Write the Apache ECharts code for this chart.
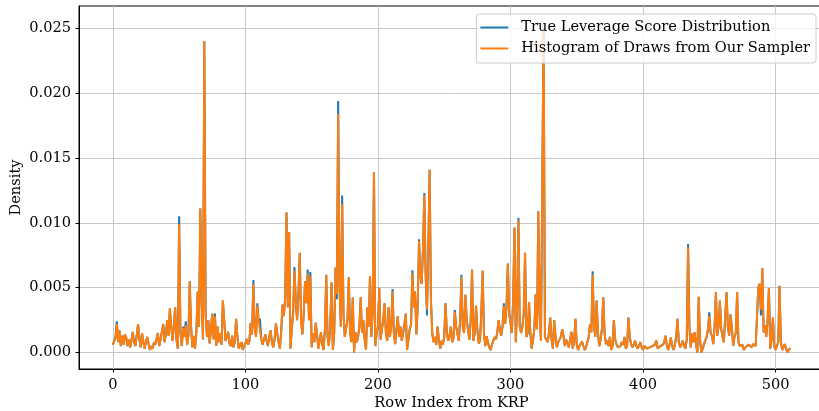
<!DOCTYPE html>
<html>
<head>
<meta charset="utf-8">
<script src="https://cdn.jsdelivr.net/npm/echarts@6/dist/echarts.min.js"></script>
<style>
  html, body { margin: 0; padding: 0; background: #fff; }
  #chart { width: 819px; height: 411px; }
</style>
</head>
<body>
<div id="chart"></div>
<script>
// density values, in units of 1e-3, one per row index (0..511)
var trueScore = [
  0.6, 0.9, 1.2, 2.4, 0.8, 1.7, 0.5, 1.3, 0.6, 1.4,
  1.2, 0.5, 1.0, 0.4, 0.9, 1.6, 0.8, 0.5, 1.3, 2.2,
  1.0, 0.4, 1.5, 0.8, 0.3, 0.9, 1.2, 0.6, 0.2, 0.5,
  0.3, 0.8, 0.6, 1.1, 1.5, 0.5, 1.0, 1.6, 2.2, 0.8,
  1.4, 2.5, 1.3, 3.4, 2.1, 0.9, 2.0, 3.5, 1.0, 0.3,
  10.5, 1.5, 0.5, 2.0, 1.2, 2.4, 0.6, 1.3, 5.5, 2.0,
  0.4, 1.2, 0.3, 1.6, 4.7, 2.0, 11.1, 4.0, 1.0, 24.0,
  3.0, 1.2, 2.5, 0.7, 1.8, 3.0, 1.0, 3.0, 0.5, 2.0,
  0.8, 1.5, 0.6, 4.0, 2.5, 0.9, 1.2, 1.6, 0.7, 0.5,
  1.3, 0.4, 0.8, 2.6, 1.2, 0.3, 0.6, 0.8, 0.2, 0.5,
  0.7, 1.05, 0.6, 0.9, 2.3, 1.4, 5.6, 1.95, 1.2, 3.8,
  2.4, 2.6, 1.0, 0.6, 0.5, 1.4, 0.9, 0.5, 1.2, 1.7,
  0.8, 0.4, 1.0, 2.25, 1.5, 0.8, 0.3, 1.6, 3.7, 2.8,
  4.2, 10.8, 3.5, 9.3, 0.3, 1.8, 3.0, 6.6, 4.0, 2.5,
  4.5, 7.7, 2.5, 1.4, 3.0, 5.5, 3.8, 6.4, 2.5, 6.2,
  0.4, 1.5, 0.8, 2.3, 1.5, 0.3, 0.9, 1.56, 0.6, 0.2,
  1.8, 6.0, 1.2, 0.5, 2.0, 5.4, 0.2, 1.5, 6.56, 4.1,
  19.4, 5.0, 2.0, 12.1, 3.0, 1.2, 1.1, 2.5, 5.8, 1.5,
  0.8, 4.25, 0.0, 1.56, 0.8, 1.2, 2.0, 4.25, 1.5, 2.5,
  1.0, 0.2, 3.5, 2.0, 5.9, 1.2, 3.0, 13.9, 0.5, 1.5,
  2.0, 5.0, 1.0, 1.8, 2.5, 3.8, 1.5, 0.9, 3.5, 1.2,
  2.0, 4.9, 1.5, 0.65, 1.8, 2.8, 1.2, 2.0, 0.9, 1.5,
  2.2, 3.0, 0.2, 1.0, 1.8, 2.2, 6.35, 3.5, 4.7, 1.4,
  3.5, 8.74, 6.0, 5.3, 8.0, 12.3, 6.0, 2.85, 8.0, 14.1,
  4.0, 1.45, 0.8, 1.2, 0.6, 2.0, 1.0, 0.3, 0.9, 0.6,
  1.2, 3.8, 1.5, 0.9, 1.3, 2.0, 0.8, 1.1, 3.28, 2.0,
  1.45, 0.9, 2.5, 6.0, 2.0, 1.5, 4.46, 2.5, 1.7, 1.0,
  2.5, 6.4, 0.9, 1.5, 3.6, 1.8, 0.7, 0.9, 3.0, 6.3,
  1.5, 0.5, 1.25, 0.8, 0.4, 0.2, 0.6, 0.9, 1.2, 1.0,
  1.5, 2.5, 1.8, 1.3, 2.0, 3.8, 2.2, 3.5, 6.87, 3.0,
  2.3, 1.5, 4.0, 9.64, 0.8, 3.5, 10.4, 2.0, 1.5, 2.0,
  3.0, 7.7, 1.2, 1.5, 3.9, 1.5, 0.3, 1.0, 1.8, 4.5,
  1.8, 10.9, 3.0, 0.9, 1.0, 25.4, 1.2, 1.2, 0.8, 1.5,
  2.7, 1.0, 0.3, 2.5, 1.2, 0.4, 0.8, 0.7, 1.2, 1.8,
  1.3, 0.5, 1.0, 0.9, 0.4, 1.0, 1.6, 0.3, 0.8, 2.6,
  0.6, 0.2, 0.5, 0.4, 0.85, 0.5, 0.2, 0.4, 0.5, 1.2,
  2.2, 1.56, 6.26, 2.0, 1.2, 4.0, 1.5, 0.5, 1.0, 1.8,
  4.25, 1.5, 0.65, 0.9, 0.5, 1.2, 0.2, 0.5, 2.5, 1.0,
  0.65, 0.4, 0.3, 0.5, 0.8, 0.6, 1.2, 0.3, 0.5, 2.7,
  1.2, 0.65, 0.4, 0.6, 0.9, 0.5, 0.3, 0.2, 0.8, 0.4,
  0.2, 0.5, 0.5, 0.3, 0.2, 0.4, 0.3, 0.5, 0.4, 0.6,
  0.95, 0.3, 0.2, 0.5, 0.4, 0.6, 0.8, 1.3, 0.5, 0.2,
  0.6, 1.15, 0.5, 0.2, 0.6, 1.2, 2.6, 0.8, 0.4, 0.6,
  0.9, 0.5, 0.3, 1.0, 8.36, 2.0, 0.4, 1.4, 0.8, 1.56,
  0.6, 0.0, 4.3, 1.0, 0.0, 0.3, 0.65, 0.5, 1.2, 1.8,
  3.1, 1.5, 1.3, 0.65, 2.0, 4.65, 1.3, 2.0, 4.0, 1.8,
  1.2, 0.8, 0.65, 4.65, 2.0, 1.3, 2.95, 2.0, 0.5, 1.2,
  1.5, 4.65, 0.8, 0.5, 0.4, 0.6, 0.2, 0.3, 0.5, 0.4,
  0.6, 0.5, 0.4, 0.65, 0.5, 0.5, 0.5, 5.0, 5.3, 2.85,
  6.5, 1.56, 2.1, 1.2, 2.5, 4.97, 0.3, 1.0, 2.7, 0.5,
  0.2, 0.5, 0.8, 5.15, 0.8, 0.2, 0.4, 0.65, 0.3, 0.0,
  0.2, 0.35
];

var sampled = [
  0.6, 0.9, 1.1, 2.2, 0.8, 1.7, 0.5, 1.3, 0.6, 1.4,
  1.2, 0.5, 1.0, 0.4, 0.9, 1.6, 0.8, 0.5, 1.3, 2.2,
  1.0, 0.4, 1.5, 0.8, 0.3, 0.9, 1.2, 0.6, 0.2, 0.5,
  0.3, 0.8, 0.6, 1.1, 1.5, 0.5, 1.0, 1.6, 2.2, 0.8,
  1.4, 2.5, 1.3, 3.4, 2.1, 0.9, 2.0, 3.5, 1.0, 0.3,
  9.9, 1.5, 0.5, 1.9, 1.2, 2.1, 0.6, 1.3, 5.5, 2.0,
  0.4, 1.3, 0.3, 1.6, 4.7, 2.0, 11.1, 4.0, 1.0, 24.0,
  3.0, 1.2, 2.5, 0.7, 1.8, 3.0, 1.0, 2.8, 0.5, 2.0,
  0.8, 1.5, 0.6, 4.0, 2.5, 0.9, 1.2, 1.6, 0.7, 0.5,
  1.3, 0.4, 0.8, 2.6, 1.2, 0.3, 0.6, 0.8, 0.2, 0.5,
  0.7, 1.05, 0.6, 0.9, 2.3, 1.4, 5.3, 1.95, 1.2, 3.6,
  2.4, 2.4, 1.0, 0.6, 0.5, 1.4, 0.9, 0.5, 1.2, 1.7,
  0.8, 0.4, 1.0, 2.25, 1.5, 0.8, 0.3, 1.6, 3.7, 2.8,
  4.2, 10.8, 3.5, 9.3, 0.3, 1.8, 3.0, 6.3, 4.0, 2.5,
  4.5, 7.7, 2.5, 1.4, 3.0, 5.5, 3.8, 6.1, 2.5, 5.9,
  0.4, 1.5, 0.8, 2.3, 1.5, 0.3, 0.9, 1.56, 0.6, 0.2,
  1.8, 6.0, 1.2, 0.5, 2.0, 5.4, 0.2, 1.5, 6.56, 4.5,
  18.4, 5.0, 2.0, 11.45, 3.0, 1.2, 1.1, 2.5, 5.8, 1.5,
  0.8, 4.25, 0.0, 1.56, 0.8, 1.2, 2.0, 4.25, 1.5, 2.5,
  1.0, 0.2, 3.5, 2.0, 5.9, 1.2, 3.0, 13.9, 0.5, 1.5,
  2.0, 5.0, 1.0, 1.8, 2.5, 3.8, 1.5, 0.9, 3.5, 1.2,
  2.0, 4.7, 1.5, 0.65, 1.8, 2.8, 1.2, 2.0, 0.9, 1.5,
  2.2, 3.0, 0.2, 1.0, 1.8, 2.2, 6.1, 3.5, 4.7, 1.4,
  3.5, 8.6, 6.0, 5.3, 8.0, 12.1, 6.0, 3.3, 8.0, 14.1,
  4.0, 1.45, 0.8, 1.2, 0.6, 2.0, 1.0, 0.3, 0.9, 0.6,
  1.2, 3.8, 1.5, 0.9, 1.3, 2.0, 0.8, 1.1, 3.1, 2.0,
  1.45, 0.9, 2.5, 5.8, 2.0, 1.5, 4.46, 2.5, 1.7, 1.0,
  2.5, 6.4, 0.9, 1.5, 3.6, 1.8, 0.7, 0.9, 3.0, 6.3,
  1.5, 0.5, 1.25, 0.8, 0.4, 0.2, 0.6, 0.9, 1.2, 1.0,
  1.5, 2.5, 1.8, 1.3, 2.0, 3.6, 2.2, 3.5, 6.87, 3.0,
  2.3, 1.5, 4.0, 9.64, 0.8, 3.5, 10.2, 2.0, 1.5, 2.0,
  3.0, 7.7, 1.2, 1.5, 3.9, 1.5, 0.3, 1.0, 1.8, 4.5,
  1.8, 10.9, 3.0, 0.9, 1.0, 25.2, 1.2, 1.2, 0.8, 1.5,
  2.7, 1.0, 0.3, 2.5, 1.2, 0.4, 0.8, 0.7, 1.2, 1.8,
  1.3, 0.5, 1.0, 0.9, 0.4, 1.0, 1.6, 0.3, 0.8, 2.6,
  0.6, 0.2, 0.5, 0.4, 0.85, 0.5, 0.2, 0.4, 0.5, 1.2,
  2.2, 1.56, 6.0, 2.0, 1.2, 4.0, 1.5, 0.5, 1.0, 1.8,
  4.25, 1.5, 0.65, 0.9, 0.5, 1.2, 0.2, 0.5, 2.5, 1.0,
  0.65, 0.4, 0.3, 0.5, 0.8, 0.6, 1.2, 0.3, 0.5, 2.7,
  1.2, 0.65, 0.4, 0.6, 0.9, 0.5, 0.3, 0.2, 0.8, 0.4,
  0.2, 0.5, 0.5, 0.3, 0.2, 0.4, 0.3, 0.5, 0.4, 0.6,
  0.95, 0.3, 0.2, 0.5, 0.4, 0.6, 0.8, 1.3, 0.5, 0.2,
  0.6, 1.15, 0.5, 0.2, 0.6, 1.2, 2.6, 0.8, 0.4, 0.6,
  0.9, 0.5, 0.3, 1.0, 8.1, 2.0, 0.4, 1.5, 0.8, 1.56,
  0.6, 0.0, 4.3, 1.0, 0.0, 0.3, 0.65, 0.5, 1.2, 1.8,
  2.8, 1.5, 1.3, 0.65, 2.0, 4.65, 1.3, 2.0, 4.0, 1.8,
  1.2, 0.8, 0.65, 4.65, 2.0, 1.3, 2.95, 2.0, 0.5, 1.2,
  1.5, 4.65, 0.8, 0.5, 0.4, 0.6, 0.2, 0.3, 0.5, 0.4,
  0.6, 0.5, 0.4, 0.65, 0.5, 0.5, 0.5, 5.0, 5.3, 3.3,
  6.5, 1.56, 2.1, 1.2, 2.5, 4.97, 0.3, 1.0, 2.7, 0.5,
  0.2, 0.5, 0.8, 5.15, 0.8, 0.2, 0.4, 0.65, 0.3, 0.0,
  0.2, 0.35
];

var xTicks = [0, 100, 200, 300, 400, 500];
var yTicks = [0, 0.005, 0.01, 0.015, 0.02, 0.025];
var names = ['True Leverage Score Distribution', 'Histogram of Draws from Our Sampler'];

var font = 'DejaVu Serif';
var fs = 14.6;
var myChart = echarts.init(document.getElementById('chart'));

var option = {
  animation: false,
  backgroundColor: '#fff',
  grid: {
    left: 79, top: 6, width: 745, height: 363,
    outerBoundsMode: 'none',
    containLabel: false,
    show: true, borderColor: '#000', borderWidth: 1
  },
  legend: {
    data: names,
    orient: 'vertical',
    right: 3, top: 14,
    icon: 'rect',
    itemWidth: 28, itemHeight: 2,
    itemGap: 6,
    padding: [6, 6, 7, 4],
    backgroundColor: 'rgba(255,255,255,0.8)',
    borderColor: '#cccccc', borderWidth: 1, borderRadius: 3,
    textStyle: { fontFamily: font, fontSize: fs, color: '#000', padding: [0, 0, 0, 8] }
  },
  xAxis: {
    type: 'value',
    min: -25.55, max: 536.55,
    name: 'Row Index from KRP',
    nameLocation: 'middle', nameGap: 27,
    nameMoveOverlap: false,
    nameTextStyle: { fontFamily: font, fontSize: fs, color: '#000' },
    axisLine: { show: true, onZero: false, lineStyle: { color: '#000', width: 1 } },
    axisTick: { show: true, length: 3.5, customValues: xTicks, lineStyle: { color: '#000' } },
    axisLabel: { customValues: xTicks, margin: 9, fontFamily: font, fontSize: fs, color: '#000' },
    splitLine: { show: true, lineStyle: { color: '#c8c8c8', width: 1 } }
  },
  yAxis: {
    type: 'value',
    min: -0.00127, max: 0.02672,
    name: 'Density',
    nameLocation: 'middle', nameGap: 55,
    nameMoveOverlap: false,
    nameTextStyle: { fontFamily: font, fontSize: fs, color: '#000' },
    axisLine: { show: true, onZero: false, lineStyle: { color: '#000', width: 1 } },
    axisTick: { show: true, length: 3.5, customValues: yTicks, lineStyle: { color: '#000' } },
    axisLabel: {
      customValues: yTicks, margin: 8, fontFamily: font, fontSize: fs, color: '#000',
      formatter: function (v) { return v.toFixed(3); }
    },
    splitLine: { show: true, lineStyle: { color: '#c8c8c8', width: 1 } }
  },
  series: [
    {
      name: names[0],
      type: 'line',
      data: trueScore.map(function (v, i) { return [i, v / 1000]; }),
      symbol: 'none',
      itemStyle: { color: '#1f77b4' },
      lineStyle: { color: '#1f77b4', width: 2 }
    },
    {
      name: names[1],
      type: 'line',
      data: sampled.map(function (v, i) { return [i, v / 1000]; }),
      symbol: 'none',
      itemStyle: { color: '#ff7f0e' },
      lineStyle: { color: '#ff7f0e', width: 2 }
    }
  ]
};

myChart.setOption(option);
</script>
</body>
</html>
